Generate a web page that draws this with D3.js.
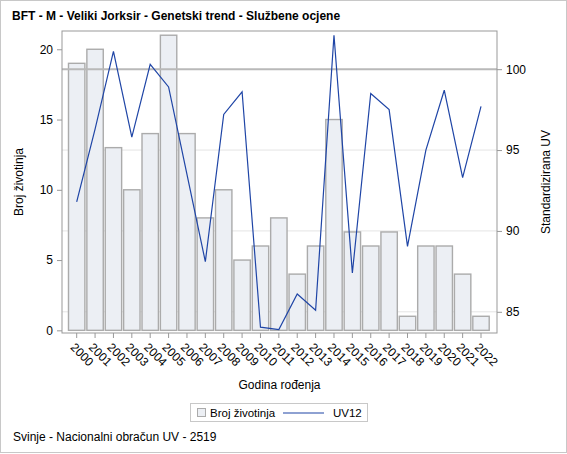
<!DOCTYPE html>
<html>
<head>
<meta charset="utf-8">
<script src="https://cdn.jsdelivr.net/npm/d3@7"></script>
<style>
  body { margin: 0; background: #fff; }
  text { font-family: "Liberation Sans", Arial, sans-serif; fill: #000; }
</style>
</head>
<body>
<svg id="chart" width="567" height="454"></svg>
<script>
const years = ['2000','2001','2002','2003','2004','2005','2006','2007','2008','2009','2010',
  '2011','2012','2013','2014','2015','2016','2017','2018','2019','2020','2021','2022'];
const animalCounts = [19, 20, 13, 10, 14, 21, 14, 8, 10, 5, 6, 8, 4, 6, 15, 7, 6, 7, 1, 6, 6, 4, 1];
const uv12 = [91.8, 96.3, 101.1, 95.8, 100.3, 98.9, 93.5, 88.1, 97.2, 98.6, 84.05,
  83.9, 86.1, 85.1, 102.1, 87.4, 98.5, 97.5, 89.05, 95.0, 98.7, 93.3, 97.7];
const leftTicks = [0, 5, 10, 15, 20];
const rightTicks = [85, 90, 95, 100];
const refValue = 100;

const W = 567, H = 454;
const plot = { left: 62, right: 497, top: 31, bottom: 333 };

const svg = d3.select('#chart');

// outer border
svg.append('rect')
  .attr('x', 0.5).attr('y', 0.5)
  .attr('width', W - 1).attr('height', H - 2)
  .attr('fill', 'none')
  .attr('stroke', '#c8c8c8');

// scales
const x = d3.scaleBand()
  .domain(years)
  .range([67.5, 490.2])
  .paddingInner(0.108)
  .paddingOuter(0.054);

const yL = d3.scaleLinear().domain([-0.19, 21.3]).range([plot.bottom, plot.top]);
const yR = d3.scaleLinear().domain([83.69, 102.36]).range([plot.bottom, plot.top]);

// gridlines from right axis
svg.append('g')
  .selectAll('line')
  .data(rightTicks.filter(d => d !== refValue))
  .join('line')
  .attr('x1', plot.left).attr('x2', plot.right)
  .attr('y1', d => yR(d)).attr('y2', d => yR(d))
  .attr('stroke', '#e4e4e4')
  .attr('stroke-width', 1);

// bars
svg.append('g')
  .selectAll('rect')
  .data(years)
  .join('rect')
  .attr('x', d => x(d))
  .attr('width', x.bandwidth())
  .attr('y', (d, i) => yL(animalCounts[i]))
  .attr('height', (d, i) => yL(0) - yL(animalCounts[i]))
  .attr('fill', '#eceff4')
  .attr('stroke', '#ababab')
  .attr('stroke-width', 1.4);

// reference line at 100
svg.append('line')
  .attr('x1', plot.left).attr('x2', plot.right)
  .attr('y1', yR(refValue)).attr('y2', yR(refValue))
  .attr('stroke', '#b9b9b9')
  .attr('stroke-width', 2);

// UV line
const line = d3.line()
  .x((d, i) => x(years[i]) + x.bandwidth() / 2)
  .y(d => yR(d));

svg.append('path')
  .datum(uv12)
  .attr('d', line)
  .attr('fill', 'none')
  .attr('stroke', '#1f45a6')
  .attr('stroke-width', 1.2);

// frame
svg.append('rect')
  .attr('x', plot.left).attr('y', plot.top)
  .attr('width', plot.right - plot.left)
  .attr('height', plot.bottom - plot.top)
  .attr('fill', 'none')
  .attr('stroke', '#999999')
  .attr('stroke-width', 1);

// left axis
const leftAxis = svg.append('g')
  .attr('transform', `translate(${plot.left},0)`)
  .call(d3.axisLeft(yL).tickValues(leftTicks).tickSize(5).tickPadding(4));
leftAxis.select('.domain').remove();
leftAxis.selectAll('line').attr('stroke', '#999999');
leftAxis.selectAll('text').style('font-size', '12px').attr('fill', '#000');

// right axis
const rightAxis = svg.append('g')
  .attr('transform', `translate(${plot.right},0)`)
  .call(d3.axisRight(yR).tickValues(rightTicks).tickSize(5).tickPadding(4));
rightAxis.select('.domain').remove();
rightAxis.selectAll('line').attr('stroke', '#999999');
rightAxis.selectAll('text').style('font-size', '12px').attr('fill', '#000');

// bottom axis
const bottomAxis = svg.append('g')
  .attr('transform', `translate(0,${plot.bottom})`)
  .call(d3.axisBottom(x).tickSize(5).tickSizeOuter(0));
bottomAxis.select('.domain').remove();
bottomAxis.selectAll('line').attr('stroke', '#999999');
bottomAxis.selectAll('text')
  .style('font-size', '12px')
  .attr('fill', '#000')
  .attr('text-anchor', 'start')
  .attr('x', 0).attr('y', 0).attr('dy', 0)
  .attr('transform', 'translate(-7,15) rotate(45)');

// titles
svg.append('text')
  .attr('x', 12).attr('y', 20)
  .style('font-size', '12px')
  .style('font-weight', 'bold')
  .text('BFT - M - Veliki Jorksir - Genetski trend - Službene ocjene');

svg.append('text')
  .attr('transform', `translate(23,${(plot.top + plot.bottom) / 2}) rotate(-90)`)
  .attr('text-anchor', 'middle')
  .style('font-size', '12px')
  .text('Broj životinja');

svg.append('text')
  .attr('transform', `translate(550,${(plot.top + plot.bottom) / 2}) rotate(-90)`)
  .attr('text-anchor', 'middle')
  .style('font-size', '12px')
  .text('Standardizirana UV');

svg.append('text')
  .attr('x', (plot.left + plot.right) / 2).attr('y', 389)
  .attr('text-anchor', 'middle')
  .style('font-size', '12px')
  .text('Godina rođenja');

// legend
const legend = svg.append('g');
legend.append('rect')
  .attr('x', 190.5).attr('y', 403.5)
  .attr('width', 177).attr('height', 18)
  .attr('fill', '#fff')
  .attr('stroke', '#c8c8c8');
legend.append('rect')
  .attr('x', 197.5).attr('y', 408.5)
  .attr('width', 8).attr('height', 8)
  .attr('fill', '#eceff4')
  .attr('stroke', '#ababab');
legend.append('text')
  .attr('x', 210).attr('y', 417)
  .style('font-size', '11.5px')
  .text('Broj životinja');
legend.append('line')
  .attr('x1', 283).attr('x2', 324)
  .attr('y1', 413).attr('y2', 413)
  .attr('stroke', '#1f45a6')
  .attr('stroke-width', 1.2);
legend.append('text')
  .attr('x', 333).attr('y', 417)
  .style('font-size', '11.5px')
  .text('UV12');

// footnote
svg.append('text')
  .attr('x', 13).attr('y', 441)
  .style('font-size', '12px')
  .text('Svinje - Nacionalni obračun UV - 2519');
</script>
</body>
</html>
